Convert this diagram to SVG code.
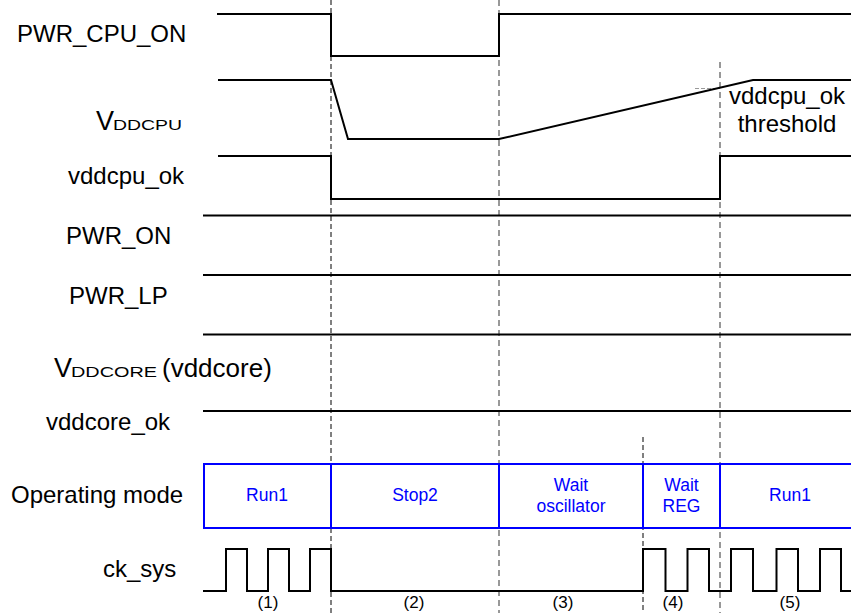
<svg xmlns="http://www.w3.org/2000/svg" width="851" height="613" viewBox="0 0 851 613">
<style>
.lbl{font-family:"Liberation Sans",Arial,sans-serif;font-size:24px;fill:#000}
.big{font-size:27px}
.par{font-size:26px}
.sub{font-family:"Liberation Sans",Arial,sans-serif;font-size:14px;fill:#000}
.mode{font-family:"Liberation Sans",Arial,sans-serif;font-size:17.5px;fill:#0000ff;text-anchor:middle}
.num{font-family:"Liberation Sans",Arial,sans-serif;font-size:17px;fill:#000;text-anchor:middle}
.sig{fill:none;stroke:#000;stroke-width:2}
.dk{fill:none;stroke:#000;stroke-width:1;stroke-dasharray:5 3}
.dg{fill:none;stroke:#777;stroke-width:1.5;stroke-dasharray:6 4}
.box{fill:#fff;stroke:#0000ff;stroke-width:2}
</style>
<rect width="851" height="613" fill="#fff"/>
<g id="guides">
<line class="dk" x1="331" y1="0" x2="331" y2="613"/>
<line class="dg" x1="499" y1="0" x2="499" y2="613"/>
<line class="dg" x1="720" y1="62" x2="720" y2="613"/>
<line class="dk" x1="643" y1="437" x2="643" y2="613"/>
<line x1="695" y1="88.5" x2="720" y2="88.5" stroke="#999" stroke-width="1" stroke-dasharray="4 2"/>
</g>
<g id="pwr_cpu_on">
<text class="lbl" x="17" y="42">PWR_CPU_ON</text>
<polyline class="sig" points="217,14 331,14 331,56 499,56 499,14 851,14"/>
</g>
<g id="vddcpu">
<text class="lbl big" x="96" y="130">V</text>
<text class="sub" x="113" y="130" textLength="69" lengthAdjust="spacingAndGlyphs">DDCPU</text>
<polyline class="sig" points="218,80 331,80 348,139 499,139 753,80 851,80"/>
<text class="lbl" x="787" y="104" text-anchor="middle">vddcpu_ok</text>
<text class="lbl" x="787" y="132" text-anchor="middle">threshold</text>
</g>
<g id="vddcpu_ok">
<text class="lbl" x="68" y="184">vddcpu_ok</text>
<polyline class="sig" points="218,156 331,156 331,199 720,199 720,156 851,156"/>
</g>
<g id="pwr_on">
<text class="lbl" x="66" y="244">PWR_ON</text>
<line class="sig" x1="203" y1="215.5" x2="851" y2="215.5"/>
</g>
<g id="pwr_lp">
<text class="lbl" x="69" y="304">PWR_LP</text>
<line class="sig" x1="203" y1="275" x2="851" y2="275"/>
</g>
<g id="vddcore">
<text class="lbl big" x="54" y="377">V</text>
<text class="sub" x="71" y="377" textLength="86" lengthAdjust="spacingAndGlyphs">DDCORE</text>
<text class="lbl par" x="162" y="377">(vddcore)</text>
<line class="sig" x1="203" y1="334.5" x2="851" y2="334.5"/>
</g>
<g id="vddcore_ok">
<text class="lbl" x="46" y="430">vddcore_ok</text>
<line class="sig" x1="203" y1="411" x2="851" y2="411"/>
</g>
<g id="operating_mode">
<text class="lbl" x="11" y="503">Operating mode</text>
<rect class="box" x="204" y="464" width="127" height="64"/>
<rect class="box" x="331" y="464" width="168" height="64"/>
<rect class="box" x="499" y="464" width="144" height="64"/>
<rect class="box" x="643" y="464" width="77" height="64"/>
<rect class="box" x="720" y="464" width="140" height="64"/>
<text class="mode" x="267" y="501">Run1</text>
<text class="mode" x="415" y="501">Stop2</text>
<text class="mode" x="571" y="491">Wait</text>
<text class="mode" x="571" y="512">oscillator</text>
<text class="mode" x="681.5" y="491">Wait</text>
<text class="mode" x="681.5" y="512">REG</text>
<text class="mode" x="790" y="501">Run1</text>
</g>
<g id="ck_sys">
<text class="lbl" x="103" y="577">ck_sys</text>
<polyline class="sig" points="203,591 226,591 226,549 247,549 247,591 268,591 268,549 289,549 289,591 310,591 310,549 331,549 331,591 643,591 643,549 665.5,549 665.5,591 687.5,591 687.5,549 709,549 709,591 731,591 731,549 753,549 753,591 776.5,591 776.5,549 798,549 798,591 820,591 820,549 841,549 841,591 851,591"/>
<text class="num" x="268" y="608">(1)</text>
<text class="num" x="414" y="608">(2)</text>
<text class="num" x="563" y="608">(3)</text>
<text class="num" x="673" y="608">(4)</text>
<text class="num" x="790" y="608">(5)</text>
</g>
</svg>
